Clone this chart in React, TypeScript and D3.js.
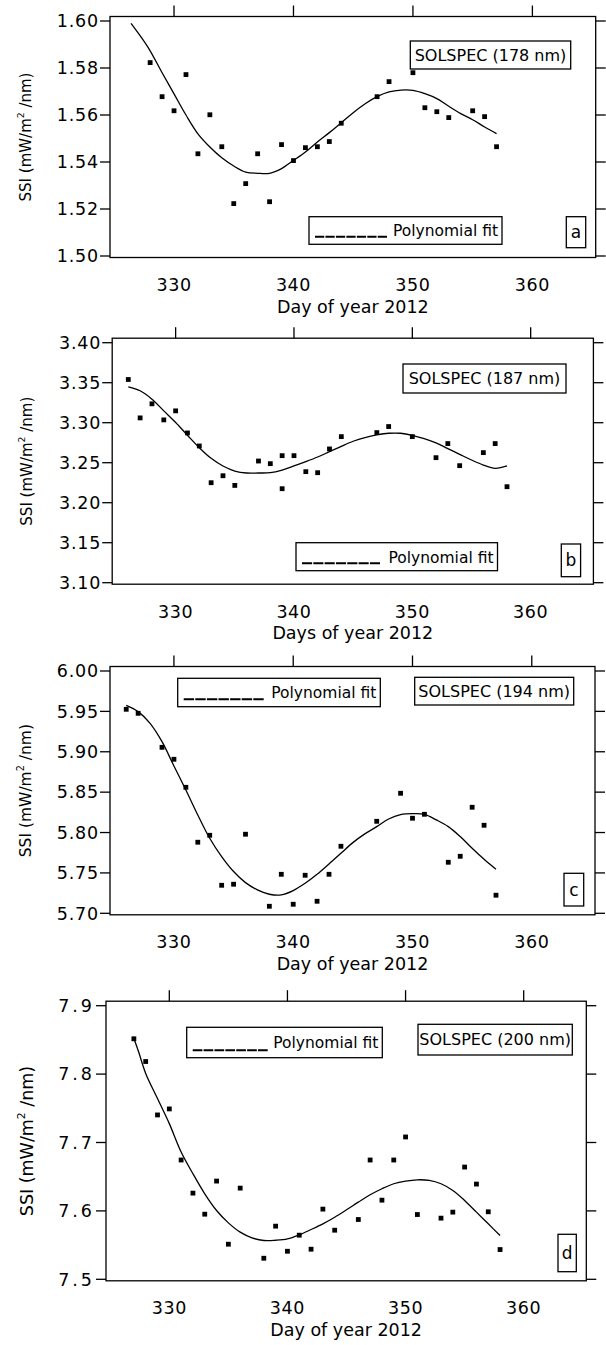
import * as React from 'react';
import * as d3 from 'd3';

const W = 606;
const H = 1345;
const FONT = 'DejaVu Sans';

const xTicks = [330, 340, 350, 360];

// panel a, 178 nm
const daysA = [328, 329, 330, 331, 332, 333, 334, 335, 336, 337, 338, 339, 340, 341, 342, 343, 344, 347, 348, 350, 351, 352, 353, 355, 356, 357];
const ssiA = [1.5823, 1.5678, 1.5618, 1.5772, 1.5435, 1.5601, 1.5465, 1.5223, 1.5308, 1.5435, 1.5231, 1.5474, 1.5406, 1.5461, 1.5465, 1.5487, 1.5565, 1.5678, 1.5742, 1.578, 1.5631, 1.5614, 1.5589, 1.5618, 1.5593, 1.5465];
const fitDaysA = [326.4, 327.8, 329, 330, 331, 332, 333, 334, 335, 336, 337, 338, 339, 340, 341, 342, 343, 344, 345, 346, 347, 348, 349, 350, 351, 352, 353, 354, 355, 356, 357];
const fitA = [1.599, 1.589, 1.578, 1.569, 1.56, 1.552, 1.5464, 1.5418, 1.5383, 1.5357, 1.5352, 1.5352, 1.5372, 1.5407, 1.5443, 1.5485, 1.5525, 1.5567, 1.561, 1.5648, 1.5678, 1.5698, 1.5706, 1.5705, 1.5691, 1.567, 1.5637, 1.5606, 1.558, 1.5549, 1.5521];
const yTicksA = [1.5, 1.52, 1.54, 1.56, 1.58, 1.6];

// panel b, 187 nm
const daysB = [326, 327, 328, 329, 330, 331, 332, 333, 334, 335, 337, 338, 339, 339, 340, 341, 342, 343, 344, 347, 348, 350, 352, 353, 354, 356, 357, 358];
const ssiB = [3.354, 3.306, 3.3236, 3.3035, 3.3148, 3.2872, 3.2709, 3.225, 3.2337, 3.2216, 3.2521, 3.2488, 3.2175, 3.2588, 3.2588, 3.2388, 3.2375, 3.2672, 3.2826, 3.2876, 3.2952, 3.2826, 3.2563, 3.2739, 3.2463, 3.2626, 3.2739, 3.22];
const fitDaysB = [326, 327, 328, 329, 330, 331, 332, 333, 334, 335, 336, 337, 338, 339, 340, 341, 342, 343, 344, 345, 346, 347, 348, 349, 350, 351, 352, 353, 354, 355, 356, 357, 358];
const fitB = [3.3449, 3.3399, 3.3294, 3.3148, 3.3002, 3.2843, 3.2688, 3.2555, 3.2459, 3.2396, 3.2371, 3.2371, 3.2375, 3.2408, 3.2459, 3.2513, 3.2571, 3.2638, 3.2705, 3.2768, 3.2814, 3.2847, 3.2868, 3.2868, 3.2843, 3.2801, 3.2747, 3.2676, 3.2605, 3.2534, 3.2471, 3.2429, 3.2459];
const yTicksB = [3.1, 3.15, 3.2, 3.25, 3.3, 3.35, 3.4];

// panel c, 194 nm
const daysC = [326, 327, 329, 330, 331, 332, 333, 334, 335, 336, 338, 339, 340, 341, 342, 343, 344, 347, 349, 350, 351, 353, 354, 355, 356, 357];
const ssiC = [5.9526, 5.9476, 5.9055, 5.8907, 5.856, 5.788, 5.7966, 5.7347, 5.736, 5.7979, 5.7087, 5.7483, 5.7112, 5.7471, 5.7149, 5.7483, 5.783, 5.8139, 5.8486, 5.8177, 5.8226, 5.7632, 5.7706, 5.8313, 5.809, 5.7224];
const fitDaysC = [326, 327, 328, 329, 330, 331, 332, 333, 334, 335, 336, 337, 338, 339, 340, 341, 342, 343, 344, 345, 346, 347, 348, 349, 350, 351, 352, 353, 354, 355, 356, 357];
const fitC = [5.9575, 5.9497, 5.9352, 5.9125, 5.8824, 5.8527, 5.8218, 5.7929, 5.7702, 5.7517, 5.738, 5.729, 5.7236, 5.7228, 5.7281, 5.7372, 5.7483, 5.7611, 5.7743, 5.7875, 5.7983, 5.8073, 5.8168, 5.8222, 5.8234, 5.8226, 5.8156, 5.8073, 5.795, 5.7805, 5.7669, 5.7545];
const yTicksC = [5.7, 5.75, 5.8, 5.85, 5.9, 5.95, 6.0];

// panel d, 200 nm
const daysD = [327, 328, 329, 330, 331, 332, 333, 334, 335, 336, 338, 339, 340, 341, 342, 343, 344, 346, 347, 348, 349, 350, 351, 353, 354, 355, 356, 357, 358];
const ssiD = [7.8516, 7.8184, 7.7403, 7.7491, 7.6744, 7.626, 7.5952, 7.6436, 7.5513, 7.6333, 7.5308, 7.5777, 7.541, 7.5645, 7.544, 7.6026, 7.5718, 7.5874, 7.6744, 7.6157, 7.6744, 7.7081, 7.5947, 7.5894, 7.5982, 7.6641, 7.6392, 7.5987, 7.5435];
const fitDaysD = [326.95, 327.4, 328, 329, 330, 331, 332, 333, 334, 335, 336, 337, 338, 339, 340, 341, 342, 343, 344, 345, 346, 347, 348, 349, 350, 351, 352, 353, 354, 355, 356, 357, 358];
const fitD = [7.8546, 7.8326, 7.8009, 7.7642, 7.7276, 7.6861, 7.6543, 7.625, 7.6006, 7.5825, 7.5689, 7.5606, 7.5567, 7.5571, 7.5591, 7.565, 7.5728, 7.5811, 7.5908, 7.6016, 7.6128, 7.6236, 7.6324, 7.6397, 7.6436, 7.6455, 7.6446, 7.6397, 7.6299, 7.6153, 7.5982, 7.5811, 7.564];
const yTicksD = [7.5, 7.6, 7.7, 7.8, 7.9];

type Box = [number, number, number, number];

type Spec = {
  days: number[];
  ssi: number[];
  fitDays: number[];
  fit: number[];
  yTicks: number[];
  fmt: string;
  solspec: string;
  letter: string;
  xTitle: string;
  left: number;
  right: number;
  yTop: number;
  yBot: number;
  solBox: Box;
  polyBox: Box;
  lineLen: number;
  letterBox: Box;
  yTitleX: number;
  yTitleSize: number;
  tickLs: number;
};

const panels: Spec[] = [
  {
    days: daysA, ssi: ssiA, fitDays: fitDaysA, fit: fitA, yTicks: yTicksA, fmt: '.2f',
    solspec: 'SOLSPEC (178 nm)', letter: 'a', xTitle: 'Day of year 2012',
    left: 110, right: 595.7, yTop: 21, yBot: 256,
    solBox: [410.3, 41, 160.4, 28], polyBox: [309, 216.7, 193, 27.6], lineLen: 72, letterBox: [566.3, 216.7, 19.4, 31],
    yTitleX: 31, yTitleSize: 15, tickLs: 0.8,
  },
  {
    days: daysB, ssi: ssiB, fitDays: fitDaysB, fit: fitB, yTicks: yTicksB, fmt: '.2f',
    solspec: 'SOLSPEC (187 nm)', letter: 'b', xTitle: 'Days of year 2012',
    left: 112.2, right: 593.4, yTop: 342.7, yBot: 582.7,
    solBox: [403, 364, 163, 29], polyBox: [296, 542.7, 201.5, 28], lineLen: 78, letterBox: [561.3, 544, 19.3, 32.7],
    yTitleX: 32, yTitleSize: 15, tickLs: 0.8,
  },
  {
    days: daysC, ssi: ssiC, fitDays: fitDaysC, fit: fitC, yTicks: yTicksC, fmt: '.2f',
    solspec: 'SOLSPEC (194 nm)', letter: 'c', xTitle: 'Day of year 2012',
    left: 110, right: 595, yTop: 671, yBot: 913.3,
    solBox: [414.7, 677.3, 159, 27.7], polyBox: [177.7, 678.3, 202.6, 28.4], lineLen: 80, letterBox: [564, 873.3, 19.7, 32.7],
    yTitleX: 31, yTitleSize: 15.5, tickLs: 0.8,
  },
  {
    days: daysD, ssi: ssiD, fitDays: fitDaysD, fit: fitD, yTicks: yTicksD, fmt: '.1f',
    solspec: 'SOLSPEC (200 nm)', letter: 'd', xTitle: 'Day of year 2012',
    left: 106, right: 586.3, yTop: 1005.7, yBot: 1279.3,
    solBox: [418, 1024.3, 154.3, 30.7], polyBox: [186.7, 1027.3, 195.6, 30.4], lineLen: 75, letterBox: [558, 1234.3, 18.3, 37.4],
    yTitleX: 33, yTitleSize: 17.5, tickLs: 3,
  },
];

function Panel({ p }: { p: Spec }) {
  const x = d3.scaleLinear().domain([324.64, 365.3]).range([p.left, p.right]);
  const y = d3
    .scaleLinear()
    .domain([p.yTicks[0], p.yTicks[p.yTicks.length - 1]])
    .range([p.yBot, p.yTop]);
  const fmt = d3.format(p.fmt);
  const line = d3
    .line<number>()
    .x((d, i) => x(p.fitDays[i]))
    .y((d) => y(d))
    .curve(d3.curveCatmullRom);

  const fTop = p.yTop - 4.5;
  const fBot = p.yBot + 1.5;
  const mid = (fTop + fBot) / 2;
  const xMid = (p.left + p.right) / 2;
  const [sx, sy, sw, sh] = p.solBox;
  const [px, py, pw, ph] = p.polyBox;
  const [lx, ly, lw, lh] = p.letterBox;
  // legend sample drawn as 7 underscores with thin gaps
  const gap = 1.2;
  const dash = (p.lineLen + gap) / 7 - gap;

  return (
    <g>
      <rect x={p.left} y={fTop} width={p.right - p.left} height={fBot - fTop} fill="none" stroke="#000" strokeWidth={1.3} />
      {xTicks.map((t) => (
        <g key={'x' + t}>
          <line x1={x(t)} x2={x(t)} y1={fTop} y2={fTop - 11} stroke="#000" strokeWidth={1.3} />
          <text x={x(t)} y={p.yBot + 35} textAnchor="middle" fontSize={17.5} letterSpacing={0.6}>
            {t}
          </text>
        </g>
      ))}
      {p.yTicks.map((t) => (
        <g key={'y' + t}>
          <line x1={p.left} x2={p.left - 10} y1={y(t)} y2={y(t)} stroke="#000" strokeWidth={1.3} />
          <line x1={p.right} x2={p.right + 10} y1={y(t)} y2={y(t)} stroke="#000" strokeWidth={1.3} />
          <text x={p.left - 11} y={y(t)} dy="0.36em" textAnchor="end" fontSize={17.5} letterSpacing={p.tickLs}>
            {fmt(t)}
          </text>
        </g>
      ))}
      <text x={xMid} y={p.yBot + 56.5} textAnchor="middle" fontSize={17.5}>
        {p.xTitle}
      </text>
      <text transform={`translate(${p.yTitleX},${mid}) rotate(-90)`} textAnchor="middle" fontSize={p.yTitleSize}>
        SSI (mW/m
        <tspan dy={-p.yTitleSize * 0.45} fontSize={p.yTitleSize * 0.62}>2</tspan>
        <tspan dy={p.yTitleSize * 0.45}> /nm)</tspan>
      </text>

      <path d={line(p.fit) || ''} fill="none" stroke="#000" strokeWidth={1.3} />
      {p.days.map((d, i) => (
        <rect key={'p' + i} x={x(d) - 2.4} y={y(p.ssi[i]) - 2.4} width={4.8} height={4.8} fill="#000" />
      ))}

      <rect x={sx} y={sy} width={sw} height={sh} fill="#fff" stroke="#000" strokeWidth={1.3} />
      <text x={sx + sw / 2} y={sy + sh / 2 + 5.8} textAnchor="middle" fontSize={16}>
        {p.solspec}
      </text>

      <rect x={px} y={py} width={pw} height={ph} fill="#fff" stroke="#000" strokeWidth={1.3} />
      <line x1={px + 6} x2={px + 6 + p.lineLen} y1={py + ph - 7.5} y2={py + ph - 7.5} stroke="#000" strokeWidth={2} strokeDasharray={`${dash},${gap}`} />
      <text x={px + pw - 4} y={py + ph / 2 + 5.8} textAnchor="end" fontSize={15.5}>
        Polynomial fit
      </text>

      <rect x={lx} y={ly} width={lw} height={lh} fill="#fff" stroke="#000" strokeWidth={1.3} />
      <text x={lx + lw / 2} y={ly + lh / 2 + 6} textAnchor="middle" fontSize={17}>
        {p.letter}
      </text>
    </g>
  );
}

export default function App() {
  return (
    <svg
      width={W}
      height={H}
      viewBox={`0 0 ${W} ${H}`}
      style={{ position: 'absolute', left: 0, top: 0, background: '#fff' }}
      fontFamily={FONT}
    >
      <rect width={W} height={H} fill="#fff" />
      {panels.map((p) => (
        <Panel key={p.letter} p={p} />
      ))}
    </svg>
  );
}
